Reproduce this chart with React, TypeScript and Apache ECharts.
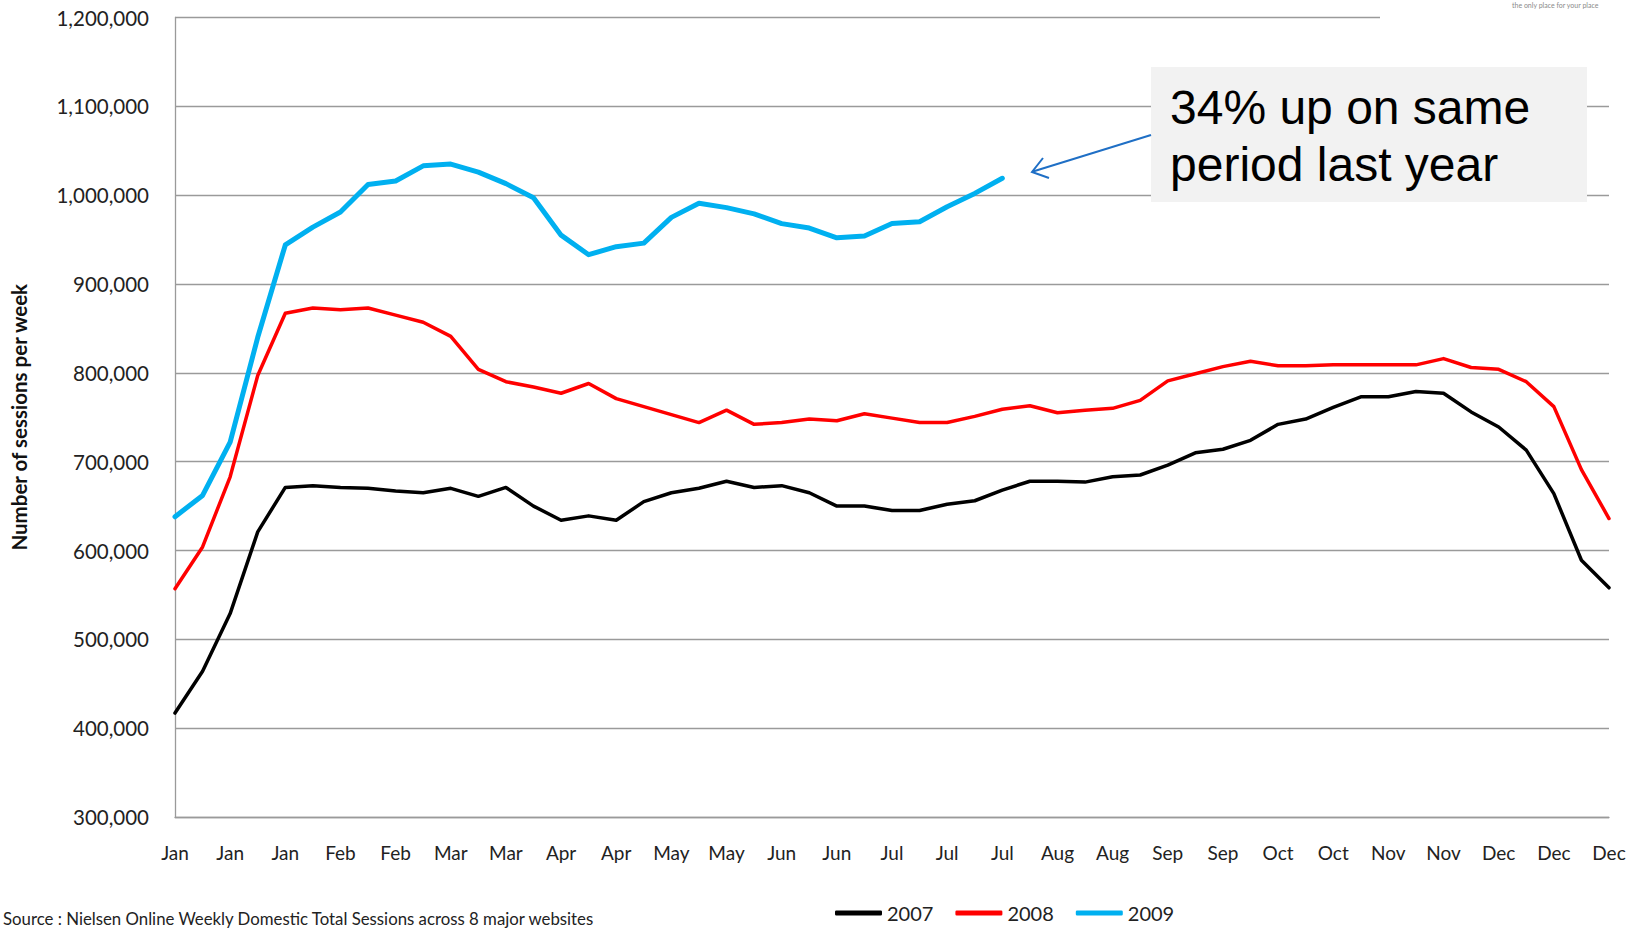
import React, { useEffect, useRef } from "react";
import * as echarts from "echarts";

// 53 weekly categories (labels shown every second week)
const weeks = [
  "Jan", "Jan", "Jan", "Jan", "Jan", "Feb", "Feb", "Feb", "Feb", "Mar",
  "Mar", "Mar", "Mar", "Apr", "Apr", "Apr", "Apr", "May", "May", "May",
  "May", "Jun", "Jun", "Jun", "Jun", "Jul", "Jul", "Jul", "Jul", "Jul",
  "Jul", "Aug", "Aug", "Aug", "Aug", "Sep", "Sep", "Sep", "Sep", "Oct",
  "Oct", "Oct", "Oct", "Nov", "Nov", "Nov", "Nov", "Dec", "Dec", "Dec",
  "Dec", "Dec", "Dec",
];

const sessions2007 = [
  417000, 464000, 529000, 621000, 671000, 673000, 671000, 670000, 667000, 665000,
  670000, 661000, 671000, 650000, 634000, 639000, 634000, 655000, 665000, 670000,
  678000, 671000, 673000, 665000, 650000, 650000, 645000, 645000, 652000, 656000,
  668000, 678000, 678000, 677000, 683000, 685000, 696000, 710000, 714000, 724000,
  742000, 748000, 761000, 773000, 773000, 779000, 777000, 756000, 739000, 713000,
  664000, 589000, 558000,
];

const sessions2008 = [
  557000, 604000, 683000, 797000, 867000, 873000, 871000, 873000, 865000, 857000,
  841000, 804000, 790000, 784000, 777000, 788000, 771000, 762000, 753000, 744000,
  758000, 742000, 744000, 748000, 746000, 754000, 749000, 744000, 744000, 751000,
  759000, 763000, 755000, 758000, 760000, 769000, 791000, 799000, 807000, 813000,
  808000, 808000, 809000, 809000, 809000, 809000, 816000, 806000, 804000, 790000,
  762000, 691000, 636000,
];

const sessions2009 = [
  638000, 662000, 722000, 840000, 944000, 964000, 981000, 1012000, 1016000, 1033000,
  1035000, 1026000, 1013000, 997000, 955000, 933000, 942000, 946000, 975000, 991000,
  986000, 979000, 968000, 963000, 952000, 954000, 968000, 970000, 987000, 1002000,
  1019000,
];

const seriesNames = ["2007", "2008", "2009"];
const seriesColors = ["#000000", "#ff0000", "#00b0f0"];

const yTitle = "Number of sessions per week";
const sourceText = "Source : Nielsen Online Weekly Domestic Total Sessions across 8 major websites";
const noteText = "34% up on same\nperiod last year";
const logoText = "the only place for your place";

export default function App() {
  const ref = useRef<HTMLDivElement>(null);

  useEffect(() => {
    document.body.style.margin = "0";
    const chart = echarts.init(ref.current as HTMLDivElement, null, { renderer: "svg" });
    const gridLine = { color: "#9a9a9a", width: 1.3 };
    const dataSets = [sessions2007, sessions2008, sessions2009];
    const widths = [3.5, 3.5, 5];

    chart.setOption({
      animation: false,
      backgroundColor: "#ffffff",
      textStyle: { fontFamily: "Lato" },
      grid: { left: 166.5, right: 21, top: 17.5, bottom: 116, containLabel: false },
      xAxis: {
        type: "category",
        data: weeks,
        boundaryGap: false,
        axisLine: { show: true, lineStyle: gridLine },
        axisTick: { show: false },
        axisLabel: { interval: 1, fontSize: 19, color: "#222", margin: 26, fontFamily: "Lato" },
        splitLine: { show: false },
      },
      yAxis: {
        type: "value",
        min: 300000,
        max: 1200000,
        interval: 100000,
        name: yTitle,
        nameLocation: "middle",
        nameGap: 146,
        nameTextStyle: { fontSize: 20.5, fontWeight: "bold", color: "#111", fontFamily: "Lato" },
        axisLine: { show: true, lineStyle: gridLine },
        axisTick: { show: false },
        axisLabel: {
          fontSize: 20.5,
          color: "#222",
          margin: 26,
          fontFamily: "Lato",
          formatter: (v: number) => v.toLocaleString("en-US"),
        },
        splitLine: { show: true, lineStyle: gridLine },
      },
      legend: {
        data: seriesNames,
        left: 830,
        top: 898,
        icon: "roundRect",
        itemWidth: 47,
        itemHeight: 5,
        itemGap: 22,
        textStyle: { fontSize: 20, color: "#222", fontFamily: "Lato" },
      },
      series: seriesNames.map((name, k) => ({
        name,
        type: "line",
        data: dataSets[k],
        showSymbol: false,
        symbol: "none",
        color: seriesColors[k],
        lineStyle: { color: seriesColors[k], width: widths[k], join: "round", cap: "round" },
        z: 2 + k,
      })),
      graphic: [
        { type: "rect", z: 10, shape: { x: 1380, y: 10, width: 240, height: 14 }, style: { fill: "#ffffff" } },
        {
          type: "text",
          z: 11,
          x: 1512,
          y: 1,
          style: { text: logoText, fontSize: 7, fill: "#8a8a8a", fontFamily: "Lato", verticalAlign: "top" },
        },
        { type: "rect", z: 10, shape: { x: 1151, y: 67, width: 436, height: 135 }, style: { fill: "#f2f2f2" } },
        {
          type: "text",
          z: 11,
          x: 1170,
          y: 79,
          style: {
            text: noteText,
            fontSize: 48,
            lineHeight: 57,
            fill: "#000000",
            fontFamily: "Liberation Sans, Arial, sans-serif",
            verticalAlign: "top",
          },
        },
        {
          type: "line",
          z: 11,
          shape: { x1: 1151, y1: 135, x2: 1033, y2: 171.5 },
          style: { stroke: "#1f6fc5", lineWidth: 2 },
        },
        {
          type: "polyline",
          z: 11,
          shape: { points: [[1043, 158], [1032, 172], [1049, 178]] },
          style: { stroke: "#1f6fc5", lineWidth: 2, fill: "none" },
        },
        {
          type: "text",
          z: 11,
          x: 3,
          y: 910,
          style: { text: sourceText, fontSize: 16.8, fill: "#222", fontFamily: "Lato", verticalAlign: "top" },
        },
      ],
    });

    return () => chart.dispose();
  }, []);

  return <div ref={ref} style={{ width: 1630, height: 933 }} />;
}
